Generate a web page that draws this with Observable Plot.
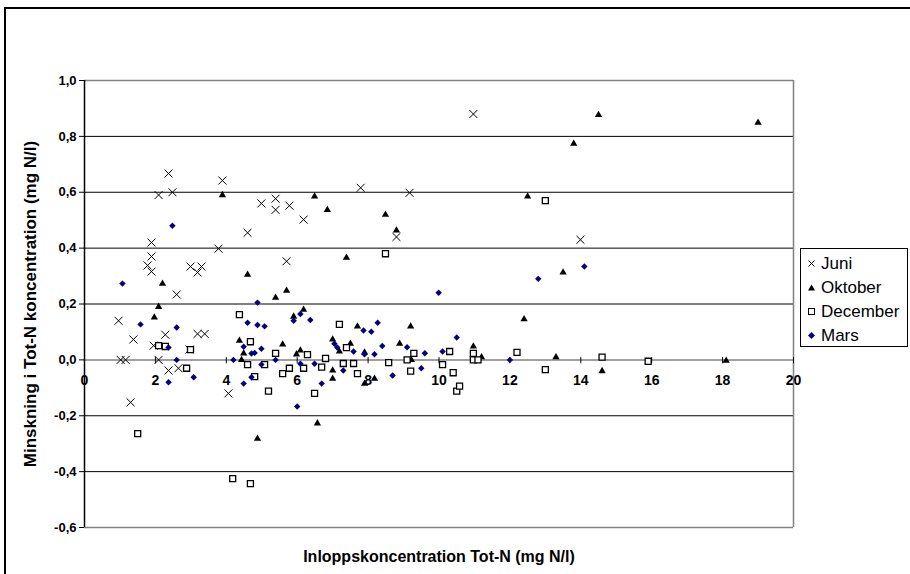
<!DOCTYPE html>
<html><head><meta charset="utf-8">
<script src="https://cdn.jsdelivr.net/npm/d3@7"></script>
<script src="https://cdn.jsdelivr.net/npm/@observablehq/plot@0.6"></script>
<style>
body{margin:0;background:#fff;overflow:hidden}
#wrap{position:relative;width:910px;height:574px;overflow:hidden;font-family:Arial,"Liberation Sans",sans-serif}
#chart{position:absolute;left:0;top:0}
#border{position:absolute;left:4px;top:7px;width:1000px;height:1000px;border-left:2px solid #000;border-top:2px solid #000;pointer-events:none}
#legend{position:absolute;left:800px;top:248px;width:108px;height:99px;border:1px solid #000;background:#fff;box-sizing:border-box;font-size:17px;color:#000}
.item{position:absolute;left:0;height:20px;line-height:20px;white-space:nowrap}
.item svg{position:absolute;left:5px;top:4px}
.item span{position:absolute;left:20px;top:0}
</style></head>
<body>
<div id="wrap">
  <div id="chart"></div>
  <div id="border"></div>
  <div id="legend"></div>
</div>
<script>
const seriesNames = ["Juni", "Oktober", "December", "Mars"];
const xTicks = [0, 2, 4, 6, 8, 10, 12, 14, 16, 18, 20];
const yTicks = [-0.6, -0.4, -0.2, 0, 0.2, 0.4, 0.6, 0.8, 1.0];
const xTitle = "Inloppskoncentration Tot-N (mg N/l)";
const yTitle = "Minskning i Tot-N koncentration (mg N/l)";

const juni = [[0.96,0.14],[1.02,0],[1.16,0],[1.3,-0.152],[1.38,0.073],[1.78,0.338],[1.89,0.42],[1.89,0.37],[1.89,0.316],[1.95,0.051],[2.09,0.59],[2.09,0],[2.28,0.09],[2.37,0.667],[2.37,-0.038],[2.48,0.60],[2.6,0.234],[2.65,-0.03],[2.96,0.037],[2.99,0.334],[3.19,0.313],[3.19,0.093],[3.30,0.334],[3.39,0.093],[3.78,0.398],[3.89,0.642],[4.06,-0.12],[4.6,0.455],[4.99,0.56],[5.39,0.577],[5.39,0.537],[5.7,0.353],[5.78,0.552],[6.18,0.502],[7.79,0.616],[8.8,0.44],[9.17,0.598],[10.97,0.88],[13.99,0.43]];

const oktober = [[1.97,0.152],[2.09,0.19],[2.2,0.273],[3.89,0.59],[4.37,0.069],[4.43,0.0],[4.49,0.023],[4.6,0.305],[4.88,-0.282],[5.39,0.223],[5.59,0.055],[5.7,0.248],[5.9,0.155],[5.98,0.02],[6.09,0.034],[6.18,0.18],[6.49,0.585],[6.57,-0.227],[6.85,0.537],[7.0,0.073],[7.0,-0.038],[7.0,-0.067],[7.19,0.03],[7.39,0.366],[7.5,0.058],[7.7,0.12],[7.9,0.027],[7.9,-0.085],[8.18,-0.067],[8.49,0.52],[8.8,0.463],[8.89,0.058],[9.2,0.12],[9.22,0.0],[10.97,0.048],[11.2,0.01],[12.4,0.146],[12.5,0.585],[13.3,0.01],[13.5,0.313],[13.8,0.774],[14.5,0.877],[14.6,-0.04],[18.1,-0.003],[19.0,0.849]];

const december = [[1.5,-0.264],[2.09,0.051],[2.28,0.048],[2.88,-0.03],[2.99,0.037],[4.18,-0.425],[4.37,0.162],[4.6,-0.017],[4.68,0.065],[4.68,-0.443],[4.8,-0.06],[5.08,-0.017],[5.19,-0.112],[5.39,0.023],[5.59,-0.049],[5.78,-0.03],[6.18,-0.03],[6.29,0.019],[6.49,-0.12],[6.69,-0.026],[6.8,0.005],[7.19,0.127],[7.3,-0.013],[7.39,0.044],[7.59,-0.013],[7.7,-0.049],[8.49,0.38],[8.58,-0.01],[9.1,0.0],[9.2,-0.04],[9.29,0.023],[10.1,-0.017],[10.3,0.03],[10.4,-0.046],[10.5,-0.112],[10.58,-0.094],[10.97,0.023],[10.97,0.0],[11.1,0.0],[12.2,0.027],[13.0,-0.035],[13.0,0.57],[14.6,0.01],[15.9,-0.005]];

const mars = [[1.07,0.273],[1.58,0.127],[2.37,0.044],[2.37,-0.08],[2.48,0.48],[2.6,0.116],[2.6,0.0],[3.08,-0.062],[4.2,0.0],[4.49,0.047],[4.49,-0.085],[4.6,0.133],[4.71,0.023],[4.71,-0.062],[4.8,0.025],[4.88,0.205],[4.88,0.125],[4.99,0.04],[4.99,-0.017],[5.08,0.12],[5.39,0.0],[5.9,0.14],[6.0,-0.167],[6.09,0.164],[6.09,-0.014],[6.37,0.143],[6.49,-0.014],[6.69,-0.085],[7.05,0.058],[7.13,0.044],[7.3,-0.038],[7.59,0.03],[7.87,0.105],[7.9,0.02],[8.09,0.101],[8.18,0.02],[8.27,0.133],[8.4,0.05],[8.69,-0.056],[9.1,0.045],[9.5,-0.03],[9.6,0.024],[9.99,0.24],[10.1,0.03],[10.5,0.08],[12.0,0.0],[12.8,0.29],[14.1,0.334]];

const font = "Arial, 'Liberation Sans', sans-serif";
const fmt = d => (d < 0 ? "-" : "") + Math.abs(d).toFixed(1).replace(".", ",");
const innerGrid = yTicks.filter(d => d !== 0 && d !== 1.0 && d !== -0.6);

const chart = Plot.plot({
  width: 910, height: 574,
  marginLeft: 84, marginRight: 117, marginTop: 80, marginBottom: 47,
  x: {domain: [0, 20], axis: null},
  y: {domain: [-0.6, 1.0], axis: null},
  style: {fontFamily: font, background: "transparent", color: "#000"},
  marks: [
    Plot.ruleY(innerGrid, {stroke: "#000", strokeWidth: 1}),
    Plot.ruleY([1.0, -0.6], {stroke: "#808080", strokeWidth: 1.5}),
    Plot.ruleX([20], {stroke: "#808080", strokeWidth: 1.5}),
    Plot.ruleY([0], {stroke: "#808080", strokeWidth: 1.5}),
    Plot.ruleX([0], {stroke: "#000", strokeWidth: 1.5}),
    Plot.axisY({ticks: yTicks, tickFormat: fmt, tickSize: 5, tickPadding: 3, fontSize: 13, fontWeight: "bold", label: null}),
    Plot.ruleX(xTicks, {x: d => d, y1: 0.008, y2: -0.014, stroke: "#000"}),
    Plot.text(xTicks, {x: d => d, y: 0, dy: 21, text: d => String(d), fontSize: 14, fontWeight: "bold"}),
    Plot.dot(juni, {x: d => d[0], y: d => d[1], symbol: "times", r: 3.7, stroke: "#000", fill: "none", strokeWidth: 1}),
    Plot.dot(oktober, {x: d => d[0], y: d => d[1], symbol: "triangle", r: 2.7, fill: "#000", stroke: "none"}),
    Plot.dot(december, {x: d => d[0], y: d => d[1], symbol: "square", r: 3.4, fill: "#fff", stroke: "#000", strokeWidth: 1.3}),
    Plot.dot(mars, {x: d => d[0], y: d => d[1], symbol: "diamond2", r: 2.9, fill: "#000080", stroke: "none"}),
    Plot.text([xTitle], {frameAnchor: "bottom", dy: 29, lineAnchor: "middle", textAnchor: "middle", text: d => d, fontSize: 16, fontWeight: "bold"}),
    Plot.text([yTitle], {frameAnchor: "left", dx: -54, rotate: -90, lineAnchor: "middle", textAnchor: "middle", text: d => d, fontSize: 17, fontWeight: "bold"})
  ]
});
document.getElementById("chart").appendChild(chart);

// Legend
const legendSymbols = [
  '<svg width="12" height="12"><path d="M2.5,2.5L8.5,8.5M8.5,2.5L2.5,8.5" stroke="#000" stroke-width="1"/></svg>',
  '<svg width="12" height="12"><path d="M5.5,2.5L9,8.5L2,8.5Z" fill="#000"/></svg>',
  '<svg width="12" height="12"><rect x="2.5" y="2.5" width="6" height="6" fill="#fff" stroke="#000" stroke-width="1"/></svg>',
  '<svg width="12" height="12"><path d="M5.5,2L9,5.5L5.5,9L2,5.5Z" fill="#000080"/></svg>'
];
const legend = document.getElementById("legend");
seriesNames.forEach((name, i) => {
  const div = document.createElement("div");
  div.className = "item";
  div.style.top = (5 + i * 24) + "px";
  div.innerHTML = legendSymbols[i] + "<span>" + name + "</span>";
  legend.appendChild(div);
});
</script>
</body></html>
